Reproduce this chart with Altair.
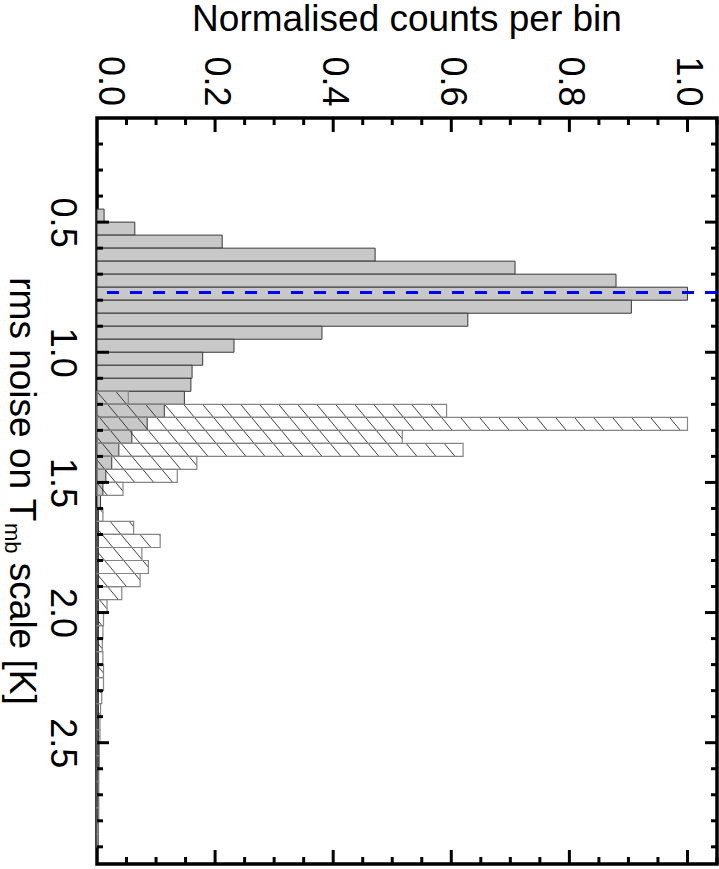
import math
import altair as alt
import pandas as pd

# ---------------- data ----------------
bin_width = 0.05
gray_bins = [0.45, 0.50, 0.55, 0.60, 0.65, 0.70, 0.75, 0.80, 0.85, 0.90, 0.95,
             1.00, 1.05, 1.10, 1.15, 1.20, 1.25, 1.30, 1.35, 1.40, 1.45, 1.50, 1.55]
gray_counts = [0.012, 0.064, 0.212, 0.471, 0.708, 0.879, 1.000, 0.905, 0.628, 0.381, 0.232,
               0.179, 0.161, 0.159, 0.148, 0.114, 0.085, 0.059, 0.037, 0.025, 0.015, 0.010, 0.006]
hatch_bins = [1.15, 1.20, 1.25, 1.30, 1.35, 1.40, 1.45, 1.50, 1.55, 1.60, 1.65, 1.70,
              1.75, 1.80, 1.85, 1.90, 1.95, 2.00, 2.05, 2.10, 2.15, 2.20, 2.25, 2.30,
              2.35, 2.40, 2.45, 2.50, 2.55, 2.60, 2.65, 2.70, 2.75, 2.80, 2.85]
hatch_counts = [0.053, 0.592, 1.000, 0.517, 0.620, 0.169, 0.136, 0.044, 0.000, 0.010, 0.062, 0.107,
                0.076, 0.087, 0.073, 0.042, 0.017, 0.011, 0.010, 0.009, 0.010, 0.011, 0.011, 0.008,
                0.006, 0.005, 0.005, 0.004, 0.004, 0.003, 0.003, 0.003, 0.003, 0.002, 0.002]
peak_rms = [0.77]

count_ticks = [0.0, 0.2, 0.4, 0.6, 0.8, 1.0]
count_minor = [0.05, 0.10, 0.15, 0.25, 0.30, 0.35, 0.45, 0.50, 0.55, 0.65, 0.70, 0.75,
               0.85, 0.90, 0.95, 1.05]
rms_ticks = [0.5, 1.0, 1.5, 2.0, 2.5]
rms_minor = [0.2, 0.3, 0.4, 0.6, 0.7, 0.8, 0.9, 1.1, 1.2, 1.3, 1.4, 1.6, 1.7, 1.8, 1.9,
             2.1, 2.2, 2.3, 2.4, 2.6, 2.7, 2.8, 2.9]

x_title = "Normalised counts per bin"
y_title_main = "rms noise on T"
y_title_sub = "mb"
y_title_rest = "scale [K]"

# ---------------- layout ----------------
W, H = 620, 746
XMAX = 1.05
YMIN, YMAX = 0.1, 2.966
FONT = "Liberation Sans"
FS = 36
FS_SUB = 22

xs = alt.Scale(domain=[0, XMAX], nice=False, zero=False)
ys = alt.Scale(domain=[YMIN, YMAX], nice=False, zero=False, reverse=True)

top_axis = alt.Axis(orient="top", values=[v for v in count_ticks if v > 0], format=".1f",
                    title=None, ticks=False, tickSize=0, domain=False, grid=False,
                    labelAngle=90, labelAlign="right", labelBaseline="middle",
                    labelPadding=12, labelFontSize=FS, labelFont=FONT,
                    labelColor="black", labelOverlap=False)
left_axis = alt.Axis(orient="left", values=rms_ticks, format=".1f", title=None,
                     ticks=False, tickSize=0, domain=False, grid=False,
                     labelAngle=90, labelAlign="center", labelBaseline="top",
                     labelPadding=19, labelFontSize=FS, labelFont=FONT,
                     labelColor="black", labelOverlap=False)

gdf = pd.DataFrame({"lo": gray_bins,
                    "hi": [b + bin_width for b in gray_bins],
                    "zero": 0.0, "val": gray_counts})
hdf = pd.DataFrame({"lo": hatch_bins,
                    "hi": [b + bin_width for b in hatch_bins],
                    "zero": 0.0, "val": hatch_counts})
hdf = hdf[hdf["val"] > 0]

gray = alt.Chart(gdf).mark_rect(fill="#c8c8c8", stroke="#383838", strokeWidth=1).encode(
    x=alt.X("zero:Q", scale=xs, axis=top_axis), x2="val:Q",
    y=alt.Y("lo:Q", scale=ys, axis=left_axis), y2="hi:Q")

# hatch lines derived from the hatched bars (style: slope and spacing in pixels)
sx = W / XMAX
sy = H / (YMAX - YMIN)
k = 1.2
sp = 19.0
segs = []
for lo, v in zip(hatch_bins, hatch_counts):
    if v <= 0:
        continue
    px0, px1 = 0.0, v * sx
    py0, py1 = (lo - YMIN) * sy, (lo + bin_width - YMIN) * sy
    n0 = int(math.floor((px0 - py1 / k) / sp)) - 1
    n1 = int(math.ceil((px1 - py0 / k) / sp)) + 1
    for n in range(n0, n1 + 1):
        x0 = n * sp
        a = max(py0, k * (px0 - x0))
        b = min(py1, k * (px1 - x0))
        if b - a > 0.3:
            segs.append({"x": (x0 + a / k) / sx, "x2": (x0 + b / k) / sx,
                         "y": YMIN + a / sy, "y2": YMIN + b / sy})
sdf = pd.DataFrame(segs)

hatch_lines = alt.Chart(sdf).mark_rule(color="#2a2a2a", strokeWidth=0.9).encode(
    x=alt.X("x:Q", scale=xs), x2="x2:Q", y=alt.Y("y:Q", scale=ys), y2="y2:Q")

hatch_box = alt.Chart(hdf).mark_rect(fill="white", fillOpacity=0, stroke="#858585",
                                     strokeWidth=1.2).encode(
    x=alt.X("zero:Q", scale=xs), x2="val:Q",
    y=alt.Y("lo:Q", scale=ys), y2="hi:Q")

peak = alt.Chart(pd.DataFrame({"r": peak_rms})).mark_rule(
    color="#0000ff", strokeWidth=3, strokeDash=[12, 11]).encode(
    y=alt.Y("r:Q", scale=ys))

# inward ticks on all four sides
def xticks(vals, y0, y1, sw=3):
    return alt.Chart(pd.DataFrame({"v": vals})).mark_rule(color="black", strokeWidth=sw).encode(
        x=alt.X("v:Q", scale=xs), y=alt.value(y0), y2=alt.value(y1))

def yticks(vals, x0, x1, sw=3):
    return alt.Chart(pd.DataFrame({"v": vals})).mark_rule(color="black", strokeWidth=sw).encode(
        y=alt.Y("v:Q", scale=ys), x=alt.value(x0), x2=alt.value(x1))

majx = [v for v in count_ticks if v > 0]
ticks = [
    xticks(majx, 0, 14), xticks(count_minor, 0, 7),
    xticks(majx, H, H - 14), xticks(count_minor, H, H - 7),
    yticks(rms_ticks, 0, 12), yticks(rms_minor, 0, 6),
    yticks(rms_ticks, W, W - 12), yticks(rms_minor, W, W - 6),
]

# first top label (0.0), drawn slightly inside like the reference
zero_lab = alt.Chart(pd.DataFrame({"v": [count_ticks[0]]})).mark_text(
    font=FONT, fontSize=FS, angle=90, align="right", baseline="middle",
    color="black", dx=-12, dy=-13).encode(
    x=alt.X("v:Q", scale=xs), y=alt.value(0), text=alt.Text("v:Q", format=".1f"))

# titles
one = pd.DataFrame({"a": [0]})
top_title = alt.Chart(one).mark_text(text=x_title, font=FONT, fontSize=37, align="center",
                                     baseline="alphabetic", color="black").encode(
    x=alt.value(W / 2), y=alt.value(-87))

adv = {"r": 333, "m": 833, "s": 500, " ": 278, "n": 556, "o": 556, "i": 222, "e": 556,
       "T": 611, "b": 556, "c": 500, "a": 556, "l": 222, "[": 278, "K": 667, "]": 278}
def tw(s, fs):
    return sum(adv[c] for c in s) / 1000.0 * fs

FT = 37
w1 = tw(y_title_main, FT)
w2 = tw(y_title_sub, FS_SUB)
wsp = tw(" ", FT)
w3 = tw(y_title_rest, FT)
start = H / 2 - (w1 + w2 + wsp + w3) / 2
tx = -87
t1 = alt.Chart(one).mark_text(text=y_title_main, font=FONT, fontSize=FT, angle=90,
                              align="left", baseline="alphabetic", color="black").encode(
    x=alt.value(tx), y=alt.value(start))
t2 = alt.Chart(one).mark_text(text=y_title_sub, font=FONT, fontSize=FS_SUB, angle=90,
                              align="left", baseline="alphabetic", color="black").encode(
    x=alt.value(tx - 5), y=alt.value(start + w1 + 1))
t3 = alt.Chart(one).mark_text(text=y_title_rest, font=FONT, fontSize=FT, angle=90,
                              align="left", baseline="alphabetic", color="black").encode(
    x=alt.value(tx), y=alt.value(start + w1 + w2 + wsp))

chart = alt.layer(gray, hatch_lines, hatch_box, peak, *ticks, zero_lab,
                  top_title, t1, t2, t3).properties(
    width=W, height=H,
    padding={"left": 97, "top": 118, "right": 2, "bottom": 5},
    autosize=alt.AutoSizeParams(type="none"),
).configure_view(stroke="black", strokeWidth=3.5)

chart.save("out.html", embed_options={"renderer": "svg", "actions": False})
